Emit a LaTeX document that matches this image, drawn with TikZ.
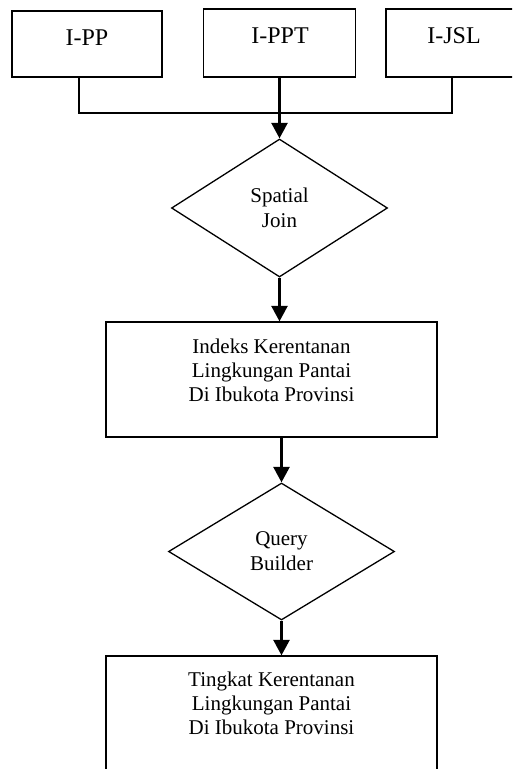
\documentclass[tikz,border=0pt]{standalone}
\usepackage{fontspec}
\setmainfont{Liberation Serif}
\usepackage{tikz}
\usetikzlibrary{shapes.geometric,arrows.meta}

\begin{document}
\begin{tikzpicture}[x=1pt,y=1pt,yscale=-1,xscale=1,
  box/.style={draw,line width=1.3pt,rectangle,inner sep=0pt},
  dia/.style={draw,line width=1.3pt,diamond,inner sep=0pt,align=center,font=\fontsize{21}{25}\selectfont},
  txt/.style={inner sep=0pt,align=center,font=\fontsize{21}{24}\selectfont},
  toptxt/.style={inner sep=0pt,anchor=base,font=\fontsize{24}{28}\selectfont},
  feed/.style={line width=1.3pt},
  flow/.style={line width=2.6pt,-{Triangle[width=16pt,length=15.5pt]}}]
\useasboundingbox (0,0) rectangle (512,769);
\clip (0,0) rectangle (512,769);

%Shape: Rectangle
\node[box,minimum width=150pt,minimum height=66pt] (pp) at (87,44) {};
\node[toptxt] (pp-t) at (87,45) {I-PP};
%Shape: Rectangle
\node[box,minimum width=152pt,minimum height=68pt] (ppt) at (279.5,43) {};
\node[toptxt] (ppt-t) at (280,43) {I-PPT};
%Shape: Rectangle
\node[box,minimum width=136pt,minimum height=68pt] (jsl) at (454,43) {};
\node[toptxt] (jsl-t) at (454,43) {I-JSL};

\coordinate (merge) at (279.5,113);

%Shape: Diamond
\node[dia,minimum width=216pt,minimum height=138pt] (sj) at (279.5,208) {Spatial\\Join};
%Shape: Rectangle
\node[box,minimum width=331pt,minimum height=115pt] (ik) at (271.5,379.5) {};
\node[txt] (ik-t) at (271.5,370) {Indeks Kerentanan\\Lingkungan Pantai\\Di Ibukota Provinsi};
%Shape: Diamond
\node[dia,minimum width=226pt,minimum height=137pt] (qb) at (281.5,551.5) {Query\\Builder};
%Shape: Rectangle
\node[box,minimum width=331pt,minimum height=115pt] (tk) at (271.5,713.5) {};
\node[txt] (tk-t) at (271.5,703.5) {Tingkat Kerentanan\\Lingkungan Pantai\\Di Ibukota Provinsi};

%Straight Lines
\draw[feed] ([xshift=-8pt]pp.south) |- (merge) -| ([xshift=-2pt]jsl.south);
%Straight Lines
\draw[flow] (ppt.south) -- (sj.north);
\draw[flow] (sj.south) -- (sj.south |- ik.north);
\draw[flow] (ik.south -| qb.north) -- (qb.north);
\draw[flow] (qb.south) -- (qb.south |- tk.north);

\end{tikzpicture}
\end{document}
